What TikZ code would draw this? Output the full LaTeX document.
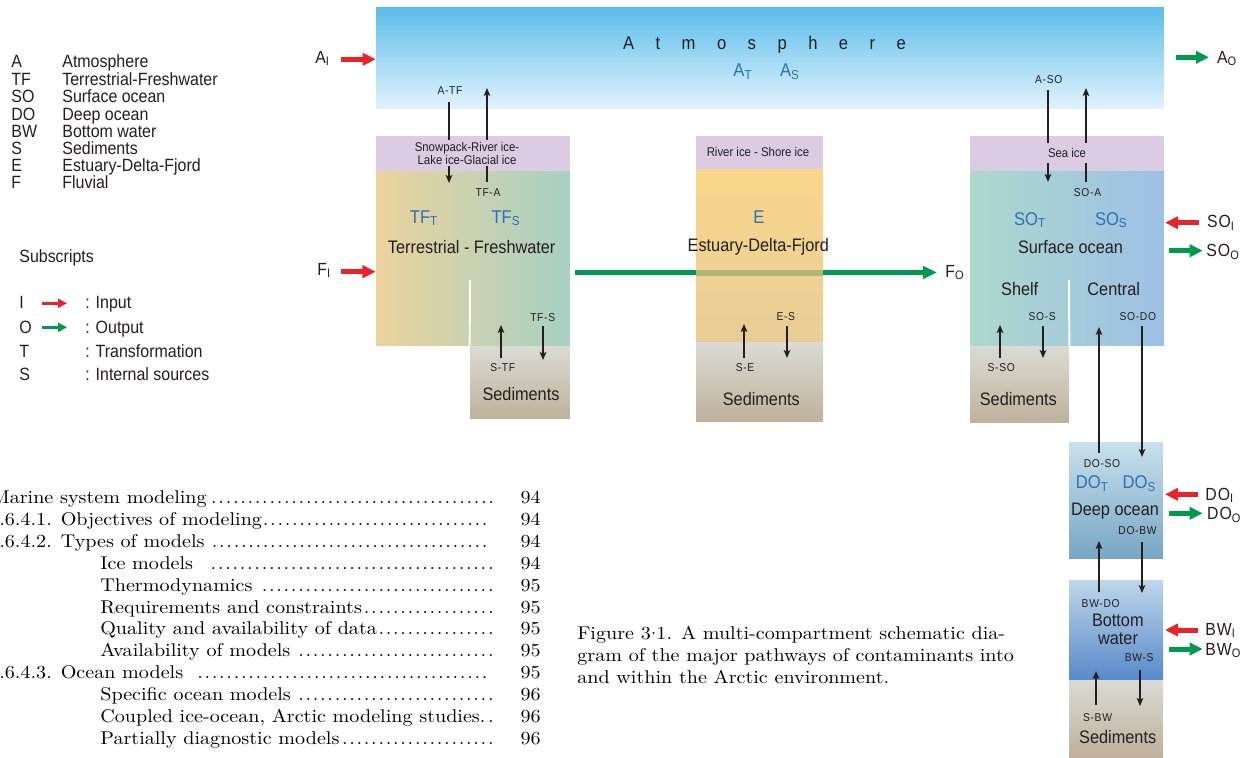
\documentclass[tikz,border=0pt]{standalone}
\usepackage{fontspec}
\usetikzlibrary{arrows.meta}
\newfontfamily\cf{Liberation Sans}[FakeStretch=0.9]
\newfontfamily\cfs{Liberation Sans}[FakeStretch=0.9,LetterSpace=6]
\newfontfamily\tocf{lmroman10-regular}[Extension=.otf,FakeStretch=1.09]
\newdimen\pxu \pxu=0.56905pt
\newcommand\tocdots{\leaders\hbox to 7.3\pxu{\hss.\hss}\hfill}
\definecolor{txt}{RGB}{35,31,32}
\definecolor{blu}{RGB}{44,112,181}
\definecolor{redc}{RGB}{232,35,42}
\definecolor{grnc}{RGB}{0,154,78}
\definecolor{icec}{RGB}{219,204,228}
\definecolor{sedtop}{RGB}{218,219,212}
\definecolor{sedbot}{RGB}{191,177,155}
\tikzset{
  boxn/.style={rectangle, inner sep=0pt, draw=none},
  lab/.style={font=\cf\fontsize{10.3}{12}\selectfont, text=txt, inner sep=0pt, anchor=base},
  sm/.style={font=\cfs\fontsize{6.5}{8}\selectfont, text=txt, inner sep=0pt, anchor=base},
  icet/.style={font=\cf\fontsize{7.2}{7.4}\selectfont, text=txt, inner sep=0pt, anchor=base},
  blab/.style={font=\cf\fontsize{10.5}{12}\selectfont, text=blu, inner sep=0pt, anchor=base},
  rlab/.style={font=\cfs\fontsize{10}{12}\selectfont, text=txt, inner sep=0pt, anchor=base west},
  leg/.style={font=\cf\fontsize{10.1}{11}\selectfont, text=txt, inner sep=0pt, anchor=base west},
  toc/.style={font=\tocf\fontsize{10.5}{12.5}\selectfont, text=black, inner sep=0pt, anchor=base west},
  pg/.style={font=\tocf\fontsize{10.5}{12.5}\selectfont, text=black, inner sep=0pt, anchor=base east},
  flux/.style={draw=txt, line width=0.7pt, -{Stealth[length=4.6pt,width=3.8pt,inset=1.2pt]}},
  inarr/.style={draw=redc, line width=2.85pt, -{Triangle[length=7.5pt,width=7pt]}},
  outarr/.style={draw=grnc, line width=2.85pt, -{Triangle[length=7.5pt,width=7pt]}},
  legin/.style={draw=redc, line width=1.8pt, -{Triangle[length=5pt,width=5pt]}},
  legout/.style={draw=grnc, line width=1.8pt, -{Triangle[length=5pt,width=5pt]}},
  divider/.style={draw=white, line width=1.1pt},
}
\begin{document}
\begin{tikzpicture}[x=0.02cm,y=-0.02cm]
\useasboundingbox (0,0) rectangle (1250,757);

% ---------------- boxes ----------------
\node[boxn, minimum width=15.76cm, minimum height=2.04cm, top color={rgb,255:red,91;green,189;blue,235}, bottom color={rgb,255:red,226;green,243;blue,252}] (atm) at (770,58) {};

\node[boxn, fill=icec, minimum width=3.88cm, minimum height=0.70cm] (tfice) at (473,153.5) {};
\node[boxn, minimum width=3.88cm, minimum height=3.50cm, left color={rgb,255:red,237;green,210;blue,157}, right color={rgb,255:red,166;green,209;blue,196}] (tf) at (473,258.5) {};
\node[boxn, minimum width=2.00cm, minimum height=1.46cm, top color=sedtop, bottom color=sedbot] (tfsed) at (520,382.5) {};
\draw[divider] (470,280) -- (tfsed.north west);

\node[boxn, fill=icec, minimum width=2.54cm, minimum height=0.66cm] (eice) at (759.5,152.5) {};
\node[boxn, minimum width=2.54cm, minimum height=3.46cm, top color={rgb,255:red,250;green,214;blue,140}, bottom color={rgb,255:red,232;green,205;blue,150}] (est) at (759.5,255.5) {};
\node[boxn, minimum width=2.54cm, minimum height=1.60cm, top color=sedtop, bottom color=sedbot] (esed) at (759.5,382) {};

\node[boxn, fill=icec, minimum width=3.88cm, minimum height=0.70cm] (soice) at (1067,153.5) {};
\node[boxn, minimum width=3.88cm, minimum height=3.50cm, left color={rgb,255:red,173;green,216;blue,204}, right color={rgb,255:red,157;green,192;blue,230}] (so) at (1067,258.5) {};
\node[boxn, minimum width=1.98cm, minimum height=1.54cm, top color=sedtop, bottom color=sedbot] (sosed) at (1019.5,384.5) {};
\draw[divider] (1069,280) -- (sosed.north east);

\node[boxn, minimum width=1.88cm, minimum height=2.34cm, top color={rgb,255:red,200;green,224;blue,236}, bottom color={rgb,255:red,118;green,166;blue,196}] (do) at (1116,500.5) {};
\node[boxn, minimum width=1.88cm, minimum height=2.00cm, top color={rgb,255:red,190;green,215;blue,235}, bottom color={rgb,255:red,88;green,137;blue,202}] (bw) at (1116,630) {};
\node[boxn, minimum width=1.88cm, minimum height=1.54cm, top color=sedtop, bottom color=sedbot] (bwsed) at (1116,718.5) {};

% ---------------- fluvial arrow ----------------
\node[rlab, font=\cf\fontsize{10}{12}\selectfont] (FO) at (945,277) {F\textsubscript{O}};
\coordinate (fstart) at (575,272.5);
\coordinate (fend) at (937,272.5);
\draw[draw=grnc, line width=3.4pt, -{Triangle[length=8pt,width=7pt]}] (fstart) -- (fend);
\fill[fill={rgb,255:red,178;green,181;blue,120}] (est.west |- 0,269.5) rectangle (est.east |- 0,275.5);

% ---------------- flux arrows ----------------
\coordinate (atf1) at (449,102);  \coordinate (atf2) at (449,183);
\coordinate (tfa1) at (487,182);  \coordinate (tfa2) at (487,88);
\coordinate (tfs1) at (543,326);  \coordinate (tfs2) at (543,360);
\coordinate (stf1) at (501,358);  \coordinate (stf2) at (501,325);
\coordinate (es1) at (787,326);   \coordinate (es2) at (787,358);
\coordinate (se1) at (744,358);   \coordinate (se2) at (744,324);
\coordinate (aso1) at (1048,90);  \coordinate (aso2) at (1048,182);
\coordinate (soa1) at (1086,182); \coordinate (soa2) at (1086,88);
\coordinate (sos1) at (1043,326); \coordinate (sos2) at (1043,358);
\coordinate (sso1) at (1000,358); \coordinate (sso2) at (1000,325);
\coordinate (sodo1) at (1142,326); \coordinate (sodo2) at (1142,457);
\coordinate (doso1) at (1099,453); \coordinate (doso2) at (1099,327);
\coordinate (dobw1) at (1142,542); \coordinate (dobw2) at (1142,593);
\coordinate (bwdo1) at (1099,592); \coordinate (bwdo2) at (1099,541);
\coordinate (bws1) at (1140,670);  \coordinate (bws2) at (1140,706);
\coordinate (sbw1) at (1096,705);  \coordinate (sbw2) at (1096,671);
\foreach \a in {atf,tfa,tfs,stf,es,se,aso,soa,sos,sso,sodo,doso,dobw,bwdo,bws,sbw}
  \draw[flux] (\a1) -- (\a2);

% ---------------- ice texts ----------------
\node[font=\cf\fontsize{7.2}{7.4}\selectfont, text=txt, fill=icec, inner sep=1pt, align=center] (snow) at (467,153) {Snowpack-River ice-\\Lake ice-Glacial ice};
\node[icet] (rice) at (758,156.7) {River ice - Shore ice};
\node[icet, fill=icec, minimum width=1cm, minimum height=0.42cm, anchor=center] (seaice) at (1067,153) {Sea ice};

% ---------------- atmosphere ----------------
\node[lab, font=\cf\fontsize{10.5}{12}\selectfont] (atmt) at (764.5,50) {\makebox[161pt][s]{A t m o s p h e r e}};
\node[blab] (AT) at (743,77) {A\textsubscript{T}};
\node[blab] (AS) at (790,77) {A\textsubscript{S}};
\node[sm] (lATF) at (450,94.3) {A-TF};
\node[sm] (lASO) at (1048.7,83.3) {A-SO};

% ---------------- terrestrial ----------------
\node[sm] (lTFA) at (488,196.7) {TF-A};
\node[blab] (TFT) at (424,223) {TF\textsubscript{T}};
\node[blab] (TFS) at (506,223) {TF\textsubscript{S}};
\node[lab] (tfname) at (471.7,253) {Terrestrial - Freshwater};
\node[sm] (lTFS) at (542.7,321.7) {TF-S};
\node[sm] (lSTF) at (502.7,371.7) {S-TF};
\node[lab] (sed1) at (521,400) {Sediments};

% ---------------- estuary ----------------
\node[blab] (E) at (759,223.3) {E};
\node[lab] (ename) at (758.3,251.7) {Estuary-Delta-Fjord};
\node[sm] (lES) at (785.8,320.7) {E-S};
\node[sm] (lSE) at (745,371.7) {S-E};
\node[lab] (sed2) at (761.3,405) {Sediments};

% ---------------- surface ocean ----------------
\node[sm] (lSOA) at (1087.5,196.7) {SO-A};
\node[blab] (SOT) at (1030,225) {SO\textsubscript{T}};
\node[blab] (SOS) at (1111.3,225) {SO\textsubscript{S}};
\node[lab] (soname) at (1070.5,253.3) {Surface ocean};
\node[lab] (shelf) at (1019.7,295) {Shelf};
\node[lab] (central) at (1113.7,295) {Central};
\node[sm] (lSOS) at (1042.2,320) {SO-S};
\node[sm] (lSODO) at (1137.8,320) {SO-DO};
\node[sm] (lSSO) at (1001.2,371.7) {S-SO};
\node[lab] (sed3) at (1018.3,405) {Sediments};

% ---------------- deep ocean / bottom water ----------------
\node[sm] (lDOSO) at (1102,467.3) {DO-SO};
\node[blab] (DOT) at (1092.3,488.3) {DO\textsubscript{T}};
\node[blab] (DOS) at (1139.5,488.3) {DO\textsubscript{S}};
\node[lab] (doname) at (1115,515) {Deep ocean};
\node[sm] (lDOBW) at (1137.5,534) {DO-BW};
\node[sm] (lBWDO) at (1100.7,607.3) {BW-DO};
\node[lab] (bot) at (1117.8,626.7) {Bottom};
\node[lab] (wat) at (1118,644.3) {water};
\node[sm] (lBWS) at (1139.2,661.7) {BW-S};
\node[sm] (lSBW) at (1097.5,721.7) {S-BW};
\node[lab] (sed4) at (1117.7,743.3) {Sediments};

% ---------------- inputs / outputs ----------------
\node[rlab] (AI) at (315,63.3) {A\textsubscript{I}};
\node[rlab] (FI) at (317,275) {F\textsubscript{I}};
\node[rlab] (AO) at (1216.7,63.3) {A\textsubscript{O}};
\node[rlab] (SOI) at (1206.7,227.7) {SO\textsubscript{I}};
\node[rlab] (SOO) at (1206,256.5) {SO\textsubscript{O}};
\node[rlab] (DOI) at (1205,500) {DO\textsubscript{I}};
\node[rlab] (DOO) at (1206.7,519.5) {DO\textsubscript{O}};
\node[rlab] (BWI) at (1205,635) {BW\textsubscript{I}};
\node[rlab] (BWO) at (1205,655) {BW\textsubscript{O}};

\coordinate (ai1) at (340.7,59.3);   \draw[inarr] (ai1) -- (atm.west |- ai1);
\coordinate (fi1) at (340.7,271.7);  \draw[inarr] (fi1) -- (tf.west |- fi1);
\coordinate (ao1) at (1176,57.3);    \coordinate (ao2) at (1209,57.3);   \draw[outarr] (ao1) -- (ao2);
\coordinate (soi1) at (1199,222.7);  \draw[inarr] (soi1) -- (1165,222.7);
\coordinate (soo1) at (1169.3,250.7); \coordinate (soo2) at (1202.7,250.7); \draw[outarr] (soo1) -- (soo2);
\coordinate (doi1) at (1198.3,494.3); \coordinate (doi2) at (1165,494.3); \draw[inarr] (doi1) -- (doi2);
\coordinate (doo1) at (1169.3,513.3); \coordinate (doo2) at (1202.7,513.3); \draw[outarr] (doo1) -- (doo2);
\coordinate (bwi1) at (1198.3,630);  \coordinate (bwi2) at (1165,630);   \draw[inarr] (bwi1) -- (bwi2);
\coordinate (bwo1) at (1169.3,649);  \coordinate (bwo2) at (1202.7,649); \draw[outarr] (bwo1) -- (bwo2);

% ---------------- legend ----------------
\node[leg] (k1) at (11,68) {A};   \node[leg] (v1) at (62,68) {Atmosphere};
\node[leg] (k2) at (11,86) {TF};  \node[leg] (v2) at (62,86) {Terrestrial-Freshwater};
\node[leg] (k3) at (11,102.5) {SO}; \node[leg] (v3) at (62,102.5) {Surface ocean};
\node[leg] (k4) at (11,120) {DO}; \node[leg] (v4) at (62,120) {Deep ocean};
\node[leg] (k5) at (11,137.5) {BW}; \node[leg] (v5) at (62,137.5) {Bottom water};
\node[leg] (k6) at (11,154.5) {S}; \node[leg] (v6) at (62,154.5) {Sediments};
\node[leg] (k7) at (11,171.5) {E}; \node[leg] (v7) at (62,171.5) {Estuary-Delta-Fjord};
\node[leg] (k8) at (11,188.5) {F}; \node[leg] (v8) at (62,188.5) {Fluvial};

\node[leg] (subh) at (19,262.5) {Subscripts};
\node[leg] (s1) at (19,308.5) {I}; \node[leg] (d1) at (85,308.5) {: Input};
\node[leg] (s2) at (19,333.5) {O}; \node[leg] (d2) at (85,333.5) {: Output};
\node[leg] (s3) at (19,357.5) {T}; \node[leg] (d3) at (85,357.5) {: Transformation};
\node[leg] (s4) at (19,380.5) {S}; \node[leg] (d4) at (85,380.5) {: Internal sources};
\coordinate (li1) at (41.7,303.3); \coordinate (li2) at (67,303.3); \draw[legin] (li1) -- (li2);
\coordinate (lo1) at (41.7,327.3); \coordinate (lo2) at (67,327.3); \draw[legout] (lo1) -- (lo2);

% ---------------- table of contents ----------------
\begin{scope}
\clip (0,0) rectangle (1250,757);
\node[toc] (t1) at (-9,503.5) {\makebox[504\pxu][l]{Marine system modeling\tocdots}};
\node[toc] (t2) at (-1,525.4) {\makebox[496\pxu][l]{.6.4.1. Objectives of modeling\tocdots}};
\node[toc] (t3) at (-1,547.3) {\makebox[496\pxu][l]{.6.4.2. Types of models\tocdots}};
\node[toc] (t4) at (100,569.2) {\makebox[395\pxu][l]{Ice models\ \ \tocdots}};
\node[toc] (t5) at (100,591.1) {\makebox[395\pxu][l]{Thermodynamics \tocdots}};
\node[toc] (t6) at (100,613) {\makebox[395\pxu][l]{Requirements and constraints\tocdots}};
\node[toc] (t7) at (100,634.9) {\makebox[395\pxu][l]{Quality and availability of data\tocdots}};
\node[toc] (t8) at (100,656.8) {\makebox[395\pxu][l]{Availability of models\tocdots}};
\node[toc] (t9) at (-1,678.7) {\makebox[496\pxu][l]{.6.4.3. Ocean models \tocdots}};
\node[toc] (t10) at (100,700.6) {\makebox[395\pxu][l]{Specific ocean models\tocdots}};
\node[toc] (t11) at (100,722.5) {\makebox[395\pxu][l]{Coupled ice-ocean, Arctic modeling studies.\tocdots}};
\node[toc] (t12) at (100,744.4) {\makebox[395\pxu][l]{Partially diagnostic models\tocdots}};
\node[pg] (p1) at (541,503.5) {94};
\node[pg] (p2) at (541,525.4) {94};
\node[pg] (p3) at (541,547.3) {94};
\node[pg] (p4) at (541,569.2) {94};
\node[pg] (p5) at (541,591.1) {95};
\node[pg] (p6) at (541,613) {95};
\node[pg] (p7) at (541,634.9) {95};
\node[pg] (p8) at (541,656.8) {95};
\node[pg] (p9) at (541,678.7) {95};
\node[pg] (p10) at (541,700.6) {96};
\node[pg] (p11) at (541,722.5) {96};
\node[pg] (p12) at (541,744.4) {96};
\end{scope}

% ---------------- caption ----------------
\node[toc] (c1) at (577,639) {Figure 3\raisebox{0.22em}{.}1. A multi-compartment schematic dia-};
\node[toc] (c2) at (577,661) {gram of the major pathways of contaminants into};
\node[toc] (c3) at (577,683) {and within the Arctic environment.};
\end{tikzpicture}
\end{document}
